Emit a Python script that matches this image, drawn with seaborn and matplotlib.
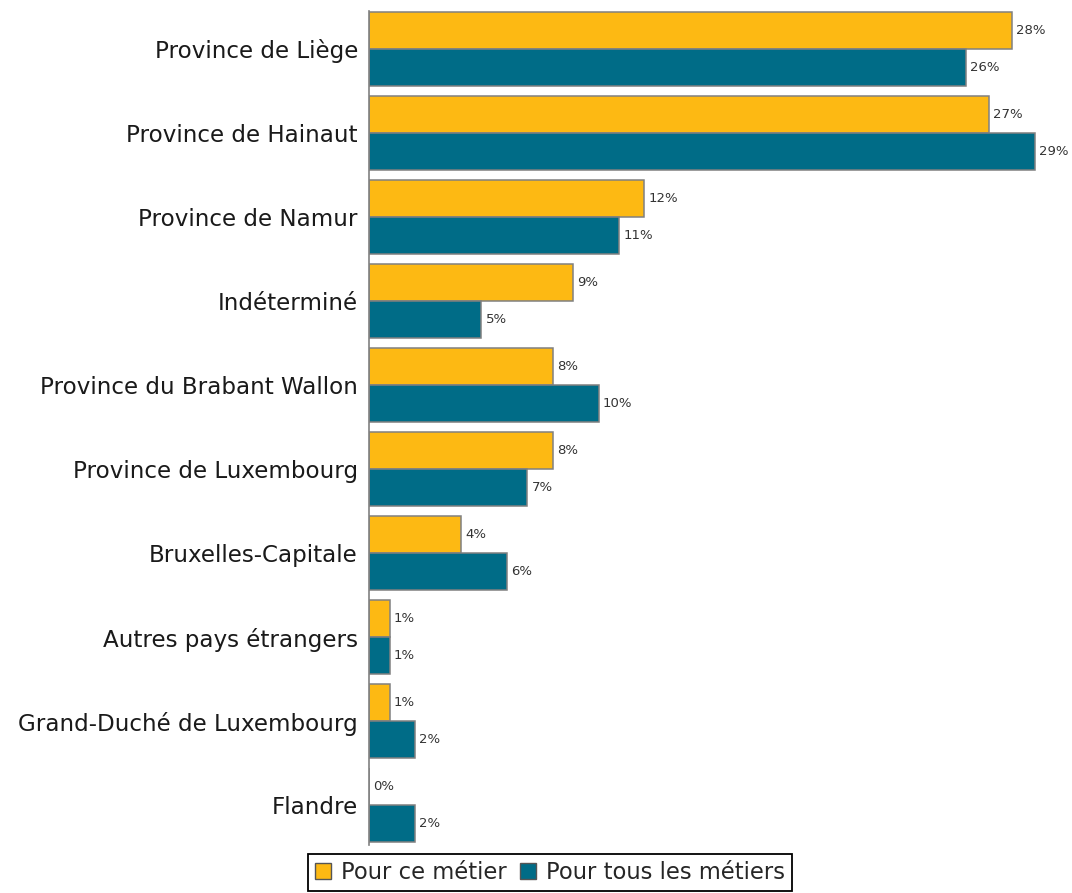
import pandas as pd
import seaborn as sns
import matplotlib.pyplot as plt
from matplotlib.patches import Patch
from matplotlib.ticker import FixedLocator, NullLocator

# Data (share of jobseekers by region, %)
regions = [
    "Province de Liège",
    "Province de Hainaut",
    "Province de Namur",
    "Indéterminé",
    "Province du Brabant Wallon",
    "Province de Luxembourg",
    "Bruxelles-Capitale",
    "Autres pays étrangers",
    "Grand-Duché de Luxembourg",
    "Flandre",
]
ce_metier = [28.0, 27.0, 12.0, 8.9, 8.0, 8.0, 4.0, 0.9, 0.9, 0.0]
tous_metiers = [26.0, 29.0, 10.9, 4.9, 10.0, 6.9, 6.0, 0.9, 2.0, 2.0]
series = ["Pour ce métier", "Pour tous les métiers"]
colors = ["#FDB913", "#006C87"]

# Long form for seaborn
df = pd.concat([
    pd.DataFrame({"region": regions, "value": ce_metier, "serie": series[0]}),
    pd.DataFrame({"region": regions, "value": tous_metiers, "serie": series[1]}),
])

sns.set_style("white")
plt.rcParams['font.family'] = ['DejaVu Sans']

fig = plt.figure(figsize=(10.72, 8.93), dpi=100)
ax = fig.add_axes([369 / 1072, 48 / 893, 703 / 1072, 834 / 893])

sns.barplot(data=df, y="region", x="value", hue="serie", orient="h",
            palette=colors, width=0.88, edgecolor="#808080", linewidth=1.1,
            saturation=1, legend=False, ax=ax)

# value labels at the end of each bar
for cont in ax.containers:
    ax.bar_label(cont, fmt="%.0f%%", padding=3, fontsize=9.5, color="#333333")

ax.set_xlim(0, 30.63)
ax.set_ylim(9.476, -0.452)
ax.set_xlabel("")
ax.set_ylabel("")
ax.xaxis.set_major_locator(NullLocator())

for side in ["top", "right", "bottom"]:
    ax.spines[side].set_visible(False)
ax.spines["left"].set_color("#808080")
ax.spines["left"].set_linewidth(1.2)

# category labels, small marks between groups
ax.tick_params(axis="y", which="major", length=0, pad=8, labelsize=16.6, labelcolor="#1a1a1a")
ax.yaxis.set_minor_locator(FixedLocator([i + 0.5 for i in range(len(regions) - 1)]))
ax.tick_params(axis="y", which="minor", length=3, width=1, color="#555555", direction="out")

handles = [Patch(facecolor=c, edgecolor="#555555", linewidth=1) for c in colors]
leg = fig.legend(handles, series, loc="upper center",
                 bbox_to_anchor=(550 / 1072, 1 - 854 / 893), ncol=2,
                 frameon=True, fancybox=False, framealpha=1, edgecolor="black",
                 fontsize=16.3, borderpad=0.3, handlelength=0.7, handleheight=0.7,
                 handletextpad=0.45, columnspacing=0.6, borderaxespad=0)
leg.get_frame().set_linewidth(1.3)

fig.savefig("out.png", dpi=100)
